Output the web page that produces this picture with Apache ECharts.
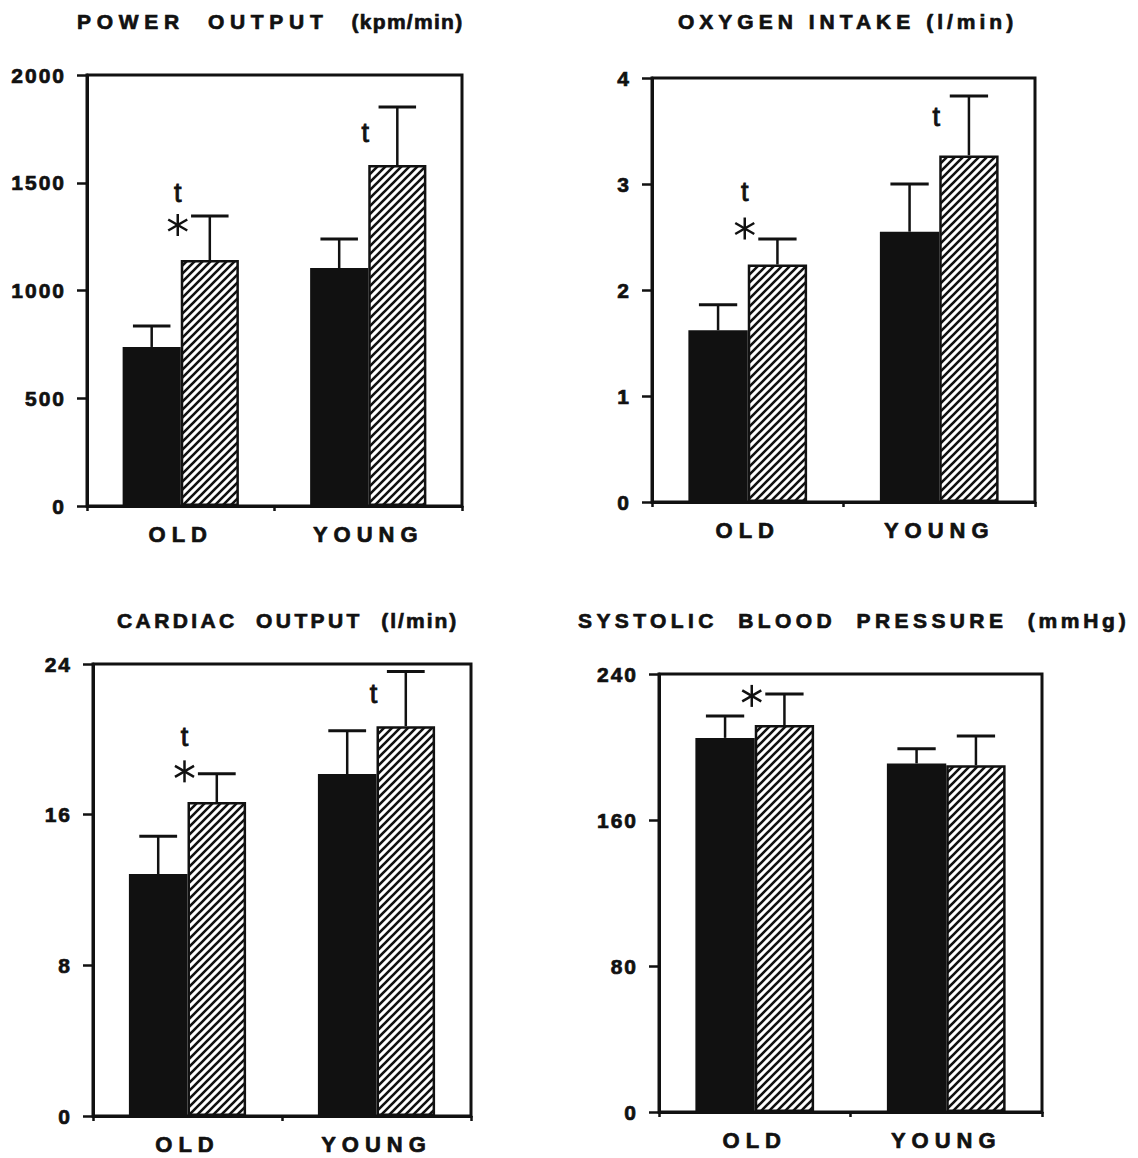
<!DOCTYPE html>
<html>
<head>
<meta charset="utf-8">
<title>Exercise responses, old vs young</title>
<script src="https://cdn.jsdelivr.net/npm/echarts@6/dist/echarts.min.js"></script>
<style>
  html, body { margin: 0; padding: 0; background: #fff; }
  #chart { width: 1138px; height: 1158px; }
</style>
</head>
<body>
<div id="chart"></div>
<script>
// ---- data ----
const groups = ['OLD', 'YOUNG'];

// Power output (kpm/min)
const powerTicks = [0, 500, 1000, 1500, 2000];
const powerFilled = [738, 1104];
const powerFilledErr = [97, 135];
const powerHatched = [1141, 1582];
const powerHatchedErr = [205, 269];
const powerT = [1452, 1731];
const powerStar = [1304, null];

// Oxygen intake (l/min)
const oxygenTicks = [0, 1, 2, 3, 4];
const oxygenFilled = [1.62, 2.55];
const oxygenFilledErr = [0.24, 0.45];
const oxygenHatched = [2.24, 3.27];
const oxygenHatchedErr = [0.24, 0.56];
const oxygenT = [2.92, 3.63];
const oxygenStar = [2.58, null];

// Cardiac output (l/min)
const cardiacTicks = [0, 8, 16, 24];
const cardiacFilled = [12.85, 18.16];
const cardiacFilledErr = [2.0, 2.3];
const cardiacHatched = [16.67, 20.7];
const cardiacHatchedErr = [1.5, 2.9];
const cardiacT = [20.1, 22.4];
const cardiacStar = [18.3, null];

// Systolic blood pressure (mmHg)
const sbpTicks = [0, 80, 160, 240];
const sbpFilled = [205, 191];
const sbpFilledErr = [12, 8];
const sbpHatched = [212, 190];
const sbpHatchedErr = [17, 16];
const sbpT = [null, null];
const sbpStar = [228, null];

// ---- layout & styling ----
const INK = '#111';
const FONT = '"Liberation Sans", Arial, Helvetica, sans-serif';
const HEAVY = 0.7; // extra stroke that thickens the printed lettering

const panels = [
  { words: 'POWER  OUTPUT  ', unit: '(kpm/min)', titleAt: [77, 21], wordSpacing: 5.7, unitSpacing: 1.3,
    grid: { left: 87, top: 75, width: 375, height: 431 },
    ticks: powerTicks, filled: powerFilled, filledErr: powerFilledErr,
    hatched: powerHatched, hatchedErr: powerHatchedErr, tMarks: powerT, starMarks: powerStar },
  { words: 'OXYGEN INTAKE ', unit: '(l/min)', titleAt: [678, 21], wordSpacing: 5, unitSpacing: 4,
    grid: { left: 652, top: 78, width: 383, height: 424 },
    ticks: oxygenTicks, filled: oxygenFilled, filledErr: oxygenFilledErr,
    hatched: oxygenHatched, hatchedErr: oxygenHatchedErr, tMarks: oxygenT, starMarks: oxygenStar },
  { words: 'CARDIAC  OUTPUT  ', unit: '(l/min)', titleAt: [117, 620], wordSpacing: 3.4, unitSpacing: 2,
    grid: { left: 93, top: 664, width: 378, height: 452 },
    ticks: cardiacTicks, filled: cardiacFilled, filledErr: cardiacFilledErr,
    hatched: cardiacHatched, hatchedErr: cardiacHatchedErr, tMarks: cardiacT, starMarks: cardiacStar },
  { words: 'SYSTOLIC  BLOOD  PRESSURE  ', unit: '(mmHg)', titleAt: [578, 620], wordSpacing: 4.4, unitSpacing: 3.7,
    grid: { left: 659, top: 674, width: 383, height: 438 },
    ticks: sbpTicks, filled: sbpFilled, filledErr: sbpFilledErr,
    hatched: sbpHatched, hatchedErr: sbpHatchedErr, tMarks: sbpT, starMarks: sbpStar }
];

// diagonal hatch tile ("/" stripes)
function hatchTile() {
  const c = document.createElement('canvas');
  c.width = 8; c.height = 8;
  const g = c.getContext('2d');
  g.fillStyle = '#fff';
  g.fillRect(0, 0, 8, 8);
  g.strokeStyle = INK;
  g.lineWidth = 2.6;
  g.beginPath();
  g.moveTo(-1, 9); g.lineTo(9, -1);
  g.moveTo(-1, 1); g.lineTo(1, -1);
  g.moveTo(7, 9); g.lineTo(9, 7);
  g.stroke();
  return c;
}
const hatchFill = { image: hatchTile(), repeat: 'repeat' };

const BAR_GAP = '38%';
const BAR_FRAC = (1 - 0.38) / 2; // width of one bar as a share of the band

// error bar: stem from bar top plus a cap
function errorBarRenderer(side) {
  return function (params, api) {
    const i = api.value(0), v = api.value(1), e = api.value(2);
    const base = api.coord([i, v]);
    const top = api.coord([i, v + e]);
    const band = api.size([1, 0])[0];
    const cx = base[0] + side * band * BAR_FRAC / 2;
    const half = band * 0.1;
    return {
      type: 'group',
      children: [
        { type: 'line', shape: { x1: cx, y1: base[1], x2: cx, y2: top[1] },
          style: { stroke: INK, lineWidth: 2.5 } },
        { type: 'line', shape: { x1: cx - half, y1: top[1], x2: cx + half, y2: top[1] },
          style: { stroke: INK, lineWidth: 3 } }
      ]
    };
  };
}

// significance marks drawn at the group centre
function markRenderer(kind) {
  return function (params, api) {
    const p = api.coord([api.value(0), api.value(1)]);
    const x = p[0] - 3, y = p[1];
    if (kind === 't') {
      return {
        type: 'text', x: x, y: y,
        style: { text: 't', font: 'normal 27px ' + FONT, fill: INK,
                 stroke: INK, lineWidth: 0.9,
                 align: 'center', verticalAlign: 'middle',
                 textAlign: 'center', textVerticalAlign: 'middle' }
      };
    }
    const r = 11, children = [];
    for (let k = 0; k < 3; k++) {
      const a = Math.PI / 2 + k * Math.PI / 3;
      children.push({
        type: 'line',
        shape: { x1: x - r * Math.cos(a), y1: y - r * Math.sin(a),
                 x2: x + r * Math.cos(a), y2: y + r * Math.sin(a) },
        style: { stroke: INK, lineWidth: 2.5 }
      });
    }
    return { type: 'group', children: children };
  };
}

const grid = [], xAxis = [], yAxis = [], series = [], graphic = [];

panels.forEach(function (p, idx) {
  grid.push(Object.assign({ show: true, borderColor: INK, borderWidth: 3,
                            backgroundColor: 'transparent', containLabel: false }, p.grid));

  xAxis.push({
    type: 'category', gridIndex: idx, data: groups,
    axisLine: { show: true, lineStyle: { color: INK, width: 3 } },
    axisTick: { show: true, length: 5, lineStyle: { color: INK, width: 2.5 } },
    axisLabel: { color: INK, fontFamily: FONT, fontWeight: 'bold', fontSize: 22, margin: 17,
                 textBorderColor: INK, textBorderWidth: HEAVY },
    splitLine: { show: false }
  });

  const step = p.ticks[1] - p.ticks[0];
  yAxis.push({
    type: 'value', gridIndex: idx,
    min: p.ticks[0], max: p.ticks[p.ticks.length - 1], interval: step,
    axisLine: { show: true, lineStyle: { color: INK, width: 3 } },
    axisTick: { show: true, length: 10, lineStyle: { color: INK, width: 2.5 } },
    axisLabel: { color: INK, fontFamily: FONT, fontWeight: 'bold', fontSize: 21, margin: 21,
                 textBorderColor: INK, textBorderWidth: HEAVY,
                 formatter: function (v) { return String(v); } },
    splitLine: { show: false }
  });

  series.push({
    type: 'bar', xAxisIndex: idx, yAxisIndex: idx, data: p.filled,
    barGap: '0%', barCategoryGap: BAR_GAP,
    itemStyle: { color: INK }, z: 2
  });
  series.push({
    type: 'bar', xAxisIndex: idx, yAxisIndex: idx, data: p.hatched,
    barGap: '0%', barCategoryGap: BAR_GAP,
    itemStyle: { color: hatchFill, borderColor: INK, borderWidth: 2.5 }, z: 2
  });

  series.push({
    type: 'custom', xAxisIndex: idx, yAxisIndex: idx, z: 3,
    renderItem: errorBarRenderer(-1),
    data: groups.map(function (g, i) { return [i, p.filled[i], p.filledErr[i]]; })
  });
  series.push({
    type: 'custom', xAxisIndex: idx, yAxisIndex: idx, z: 3,
    renderItem: errorBarRenderer(1),
    data: groups.map(function (g, i) { return [i, p.hatched[i], p.hatchedErr[i]]; })
  });

  const tData = [], starData = [];
  groups.forEach(function (g, i) {
    if (p.tMarks[i] != null) tData.push([i, p.tMarks[i]]);
    if (p.starMarks[i] != null) starData.push([i, p.starMarks[i]]);
  });
  if (tData.length) series.push({ type: 'custom', xAxisIndex: idx, yAxisIndex: idx, z: 4,
                                  renderItem: markRenderer('t'), data: tData });
  if (starData.length) series.push({ type: 'custom', xAxisIndex: idx, yAxisIndex: idx, z: 4,
                                     renderItem: markRenderer('star'), data: starData });

  graphic.push({
    type: 'text', x: p.titleAt[0], y: p.titleAt[1],
    style: { text: p.words + p.unit, font: 'bold 21px ' + FONT, fill: INK,
             stroke: INK, lineWidth: HEAVY,
             align: 'left', verticalAlign: 'middle',
             textAlign: 'left', textVerticalAlign: 'middle' }
  });
});

const chart = echarts.init(document.getElementById('chart'), null,
                           { renderer: 'svg', width: 1138, height: 1158 });
chart.setOption({
  animation: false,
  backgroundColor: '#fff',
  tooltip: { show: false },
  grid: grid, xAxis: xAxis, yAxis: yAxis, series: series, graphic: graphic
});

// the typeset lettering is widely tracked; applied to the rendered text nodes
const SVGNS = 'http://www.w3.org/2000/svg';
function track(el, ls) {
  el.setAttribute('letter-spacing', ls);
  el.style.letterSpacing = ls + 'px';
}
function applySpacing() {
  document.querySelectorAll('#chart text').forEach(function (el) {
    el.setAttribute('xml:space', 'preserve');
    el.style.whiteSpace = 'pre';
    const text = el.textContent;
    const panel = panels.find(function (p) { return p.words + p.unit === text; });
    if (panel) {
      el.textContent = '';
      [[panel.words, panel.wordSpacing], [panel.unit, panel.unitSpacing]].forEach(function (seg) {
        const ts = document.createElementNS(SVGNS, 'tspan');
        ts.textContent = seg[0];
        track(ts, seg[1]);
        el.appendChild(ts);
      });
    } else if (groups.indexOf(text) >= 0) {
      track(el, 6);
    } else if (/^\d+$/.test(text)) {
      track(el, 2);
    }
  });
}
applySpacing();
chart.on('finished', applySpacing);
</script>
</body>
</html>
